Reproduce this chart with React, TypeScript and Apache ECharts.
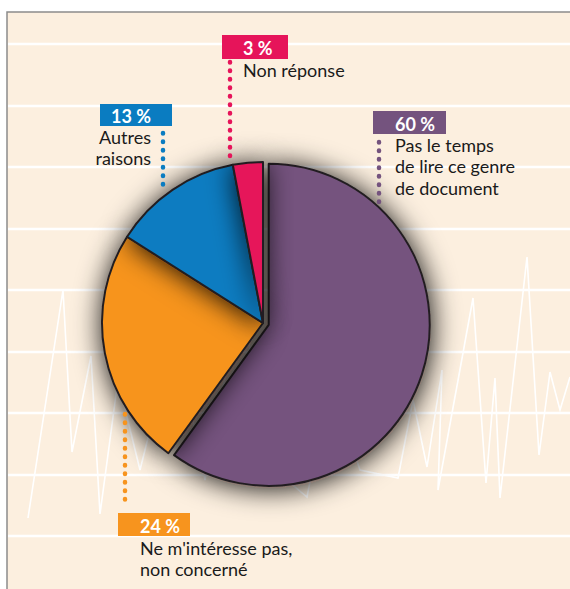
import React, { useEffect, useRef } from "react";
import * as echarts from "echarts";

// ---- data ----
const categories = [
  "Pas le temps\nde lire ce genre\nde document",
  "Ne m'intéresse pas,\nnon concerné",
  "Autres\nraisons",
  "Non réponse",
];
const values = [60, 24, 13, 3];
const colors = ["#74537E", "#F7941E", "#0A7CC1", "#E6145A"];

// ---- label layout (positions / styles only) ----
const labelLayout = [
  { bx: 373, by: 111, bw: 73, bh: 23, px: 395, align: "left", tx: 395, ty: 134, lx: 379, ly1: 142, ly2: 206 },
  { bx: 118, by: 513, bw: 72, bh: 23, px: 140, align: "left", tx: 140, ty: 537, lx: 125, ly1: 414, ly2: 507 },
  { bx: 100, by: 104, bw: 72, bh: 22, px: 151, align: "right", tx: 151, ty: 126, lx: 163, ly1: 133, ly2: 186 },
  { bx: 222, by: 35, bw: 66, bh: 24, px: 243, align: "left", tx: 243, ty: 59, lx: 230, ly1: 62, ly2: 157 },
];

const gridLinesY = [44, 106, 167, 229, 290, 352, 413, 475, 536];
const zigzag = [
  [28, 518], [63, 290], [72, 452], [91, 356], [100, 514], [118, 380], [140, 470], [175, 330],
  [205, 480], [240, 300], [275, 470], [307, 497], [330, 380], [360, 470], [398, 478], [413, 400],
  [427, 467], [442, 370], [438, 490], [473, 298], [486, 483], [495, 378], [500, 498], [527, 257],
  [539, 455], [550, 372], [560, 410], [570, 377],
];

const FONT = "Lato, 'Open Sans', sans-serif";

export default function App() {
  const ref = useRef<HTMLDivElement>(null);
  useEffect(() => {
    if (!ref.current) return;
    const chart = echarts.init(ref.current, null, { renderer: "svg" });

    const graphics: any[] = [];
    graphics.push({
      type: "rect",
      z: -10,
      silent: true,
      shape: { x: 7, y: 12, width: 600, height: 620 },
      style: { fill: "#FCEFDF", stroke: "#8C8C8C", lineWidth: 1.5 },
    });
    gridLinesY.forEach((y) => {
      graphics.push({
        type: "line",
        z: -9,
        silent: true,
        shape: { x1: 8, y1: y, x2: 570, y2: y },
        style: { stroke: "#FFFFFF", lineWidth: 2.5 },
      });
    });
    graphics.push({
      type: "polyline",
      z: -8,
      silent: true,
      shape: { points: zigzag },
      style: { stroke: "#FFFFFF", lineWidth: 1.6, fill: null },
    });

    values.forEach((v, i) => {
      const L = labelLayout[i];
      graphics.push({
        type: "line",
        z: 100,
        silent: true,
        shape: { x1: L.lx, y1: L.ly1, x2: L.lx, y2: L.ly2 },
        style: { stroke: colors[i], lineWidth: 4.5, lineCap: "round", lineDash: [0.6, 7.9] },
      });
      graphics.push({
        type: "rect",
        z: 100,
        silent: true,
        shape: { x: L.bx, y: L.by, width: L.bw, height: L.bh },
        style: { fill: colors[i] },
      });
      graphics.push({
        type: "text",
        z: 101,
        silent: true,
        x: L.px,
        y: L.by + L.bh / 2 + 1,
        style: {
          text: `${v} %`,
          fill: "#FFFFFF",
          font: `bold 18px ${FONT}`,
          align: L.align,
          verticalAlign: "middle",
        },
      });
      graphics.push({
        type: "text",
        z: 101,
        silent: true,
        x: L.tx,
        y: L.ty,
        style: {
          text: categories[i],
          fill: "#1A1A1A",
          font: `18px ${FONT}`,
          lineHeight: 21.5,
          align: L.align,
          verticalAlign: "top",
        },
      });
    });

    chart.setOption({
      animation: false,
      backgroundColor: "#FFFFFF",
      graphic: graphics,
      series: [
        {
          type: "pie",
          center: [263, 323],
          radius: 161,
          startAngle: 90,
          clockwise: true,
          selectedMode: "single",
          selectedOffset: 6,
          silent: true,
          label: { show: false },
          labelLine: { show: false },
          emphasis: { disabled: true },
          itemStyle: {
            borderColor: "#231F20",
            borderWidth: 2,
            shadowBlur: 28,
            shadowColor: "rgba(10,5,5,0.95)",
            shadowOffsetX: 1,
            shadowOffsetY: 2,
          },
          data: values.map((v, i) => ({
            value: v,
            name: categories[i].replace(/\n/g, " "),
            selected: i === 0,
            itemStyle: { color: colors[i] },
          })),
        },
      ],
    });
    return () => chart.dispose();
  }, []);
  return (
    <div
      ref={ref}
      style={{ position: "fixed", left: 0, top: 0, width: 570, height: 589 }}
    />
  );
}
